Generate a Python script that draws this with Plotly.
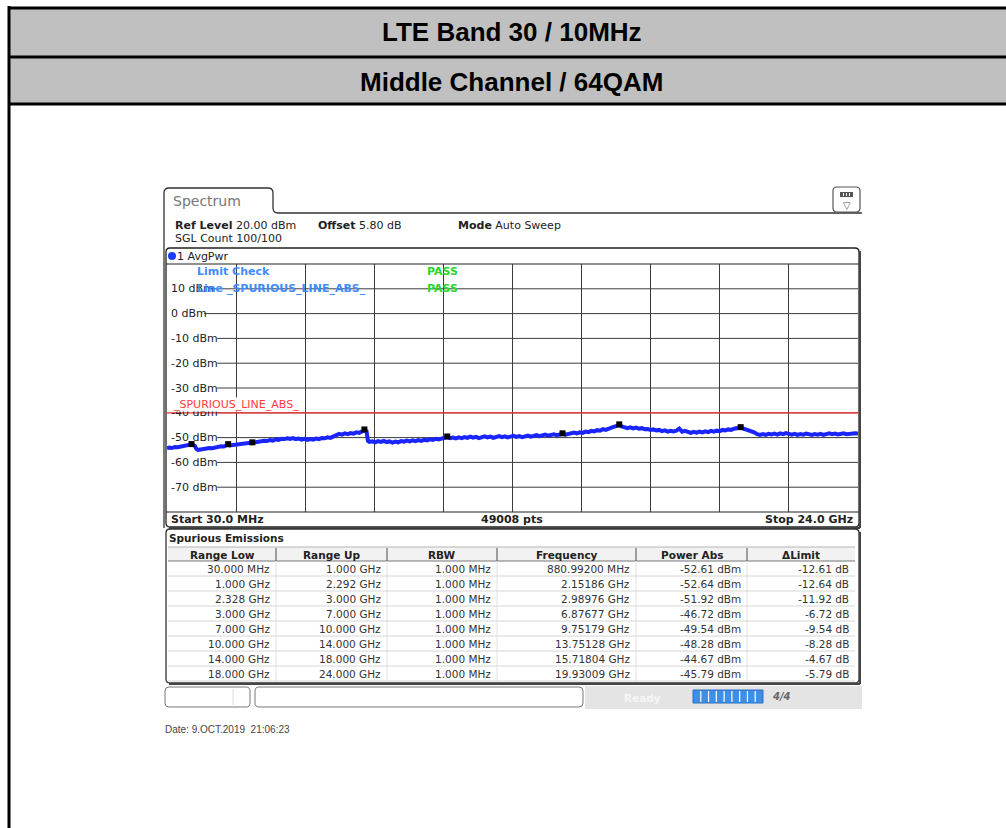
import plotly.graph_objects as go

W, H = 1006, 828

# ---------------- data ----------------
title_rows = ["LTE Band 30 / 10MHz", "Middle Channel / 64QAM"]

start_ghz, stop_ghz = 0.03, 24.0
ref_level_dbm, bottom_dbm = 20.0, -80.0
limit_dbm = -40.0
sweep_points = 49008

ytick_vals = [10, 0, -10, -20, -30, -40, -50, -60, -70]
ytick_text = [f"{v} dBm" for v in ytick_vals]

# AvgPwr trace (GHz, dBm)
freq_ghz = [
    0.03, 0.1, 0.2, 0.3, 0.4, 0.5, 0.6, 0.7, 0.8, 0.88, 0.95, 1.0, 1.05,
    1.1, 1.2, 1.3, 1.4, 1.5, 1.6, 1.7, 1.8, 1.9, 2.0, 2.1, 2.15, 2.2, 2.3,
    2.4, 2.5, 2.6, 2.7, 2.8, 2.9, 2.99,
    3.1, 3.2, 3.3, 3.4, 3.5, 3.6, 3.7, 3.8, 3.9, 4.0, 4.1, 4.2, 4.3, 4.4,
    4.5, 4.6, 4.7, 4.8, 4.9, 5.0, 5.1, 5.2, 5.3, 5.4, 5.5, 5.6, 5.7, 5.8,
    5.9, 6.0, 6.1, 6.2, 6.3, 6.4, 6.5, 6.6, 6.7, 6.8, 6.88, 6.95,
    7.0, 7.05, 7.15, 7.25, 7.35, 7.45, 7.55, 7.65, 7.75, 7.85, 7.95, 8.05,
    8.15, 8.25, 8.35, 8.45, 8.55, 8.65, 8.75, 8.85, 8.95, 9.05, 9.15, 9.25,
    9.35, 9.45, 9.55, 9.65, 9.75, 9.85, 9.95,
    10.05, 10.15, 10.25, 10.35, 10.45, 10.55, 10.65, 10.75, 10.85, 10.95,
    11.05, 11.15, 11.25, 11.35, 11.45, 11.55, 11.65, 11.75, 11.85, 11.95,
    12.05, 12.15, 12.25, 12.35, 12.45, 12.55, 12.65, 12.75, 12.85, 12.95,
    13.05, 13.15, 13.25, 13.35, 13.45, 13.55, 13.65, 13.75, 13.85, 13.95,
    14.05, 14.15, 14.25, 14.35, 14.45, 14.55, 14.65, 14.75, 14.85, 14.95,
    15.05, 15.15, 15.25, 15.35, 15.45, 15.55, 15.65, 15.72, 15.8, 15.9,
    16.0, 16.1, 16.2, 16.3, 16.4, 16.5, 16.6, 16.7, 16.8, 16.9, 17.0, 17.1,
    17.2, 17.3, 17.4, 17.5, 17.6, 17.7, 17.8, 17.85, 17.9, 18.0,
    18.1, 18.2, 18.3, 18.4, 18.5, 18.6, 18.7, 18.8, 18.9, 19.0, 19.1, 19.2,
    19.3, 19.4, 19.5, 19.6, 19.7, 19.8, 19.93, 20.0, 20.1, 20.2, 20.3, 20.4,
    20.5, 20.6, 20.7, 20.8, 20.9, 21.0, 21.1, 21.2, 21.3, 21.4, 21.5, 21.6,
    21.7, 21.8, 21.9, 22.0, 22.1, 22.2, 22.3, 22.4, 22.5, 22.6, 22.7, 22.8,
    22.9, 23.0, 23.1, 23.2, 23.3, 23.4, 23.5, 23.6, 23.7, 23.8, 23.9, 24.0,
]
level_dbm = [
    -54.3, -54.0, -54.2, -53.8, -53.9, -53.6, -53.5, -53.2, -53.0, -52.7, -53.1, -53.4, -54.6,
    -55.0, -54.8, -54.5, -54.6, -54.2, -54.3, -53.9, -53.8, -53.5, -53.6, -53.1, -52.8, -53.2, -53.0,
    -52.9, -52.6, -52.7, -52.4, -52.3, -52.1, -52.0,
    -51.9, -51.6, -51.7, -51.3, -51.4, -51.0, -51.2, -50.7, -50.9, -50.5, -50.6, -50.3, -50.5, -50.2,
    -50.6, -50.4, -50.8, -50.5, -50.9, -50.6, -50.8, -50.4, -50.6, -50.2, -50.3, -49.9, -50.1, -49.5,
    -48.9, -48.5, -48.8, -48.3, -48.6, -48.2, -48.4, -47.9, -48.1, -47.6, -47.0, -47.4,
    -51.3, -51.7, -51.5, -51.9, -51.4, -51.7, -51.3, -51.8, -51.5, -52.0, -51.6, -51.9,
    -51.4, -51.6, -51.2, -51.5, -51.1, -51.4, -51.0, -51.3, -50.9, -51.1, -50.7, -50.9,
    -50.5, -50.7, -50.3, -50.1, -49.8, -50.2, -50.0,
    -50.3, -49.9, -50.2, -49.8, -50.1, -49.6, -50.0, -49.7, -50.2, -49.8,
    -49.5, -49.9, -49.6, -50.1, -49.7, -49.4, -49.8, -49.5, -49.9, -49.6,
    -49.3, -49.7, -49.4, -49.8, -49.5, -49.2, -49.6, -49.3, -49.0, -49.4,
    -49.1, -48.8, -49.2, -48.9, -48.7, -49.0, -48.6, -48.5, -48.8, -48.6,
    -48.4, -48.0, -48.3, -47.9, -48.1, -47.6, -47.8, -47.3, -47.5, -47.0,
    -47.2, -46.6, -46.9, -46.3, -46.0, -45.6, -45.2, -45.0, -45.5, -45.9,
    -46.2, -45.9, -46.3, -46.0, -46.4, -46.2, -46.6, -46.5, -46.9, -46.7, -47.1, -46.9,
    -47.4, -47.1, -47.6, -47.3, -47.5, -47.2, -46.4, -47.0, -47.6, -47.3,
    -47.8, -48.1, -47.7, -48.0, -47.6, -47.9, -47.5, -47.8, -47.3, -47.6, -47.2, -47.4,
    -46.9, -47.1, -46.7, -46.9, -46.4, -46.1, -45.9, -46.3, -46.6, -46.9, -47.3, -47.9,
    -48.6, -48.9, -48.6, -48.9, -48.5, -48.7, -48.4, -48.8, -48.3, -48.6, -48.2, -48.5,
    -48.8, -48.5, -48.9, -48.6, -48.8, -48.4, -48.7, -48.9, -48.6, -48.8, -48.5, -48.9,
    -48.6, -48.3, -48.6, -48.4, -48.7, -48.5, -48.3, -48.6, -48.4, -48.5, -48.3, -48.4,
]

# Spurious emission result table
range_low = ["30.000 MHz", "1.000 GHz", "2.328 GHz", "3.000 GHz",
             "7.000 GHz", "10.000 GHz", "14.000 GHz", "18.000 GHz"]
range_up = ["1.000 GHz", "2.292 GHz", "3.000 GHz", "7.000 GHz",
            "10.000 GHz", "14.000 GHz", "18.000 GHz", "24.000 GHz"]
rbw = ["1.000 MHz"] * 8
peak_freq_ghz = [0.880992, 2.15186, 2.98976, 6.87677,
                 9.75179, 13.75128, 15.71804, 19.93009]
peak_dbm = [-52.61, -52.64, -51.92, -46.72, -49.54, -48.28, -44.67, -45.79]
table_header = ["Range Low", "Range Up", "RBW", "Frequency", "Power Abs", "ΔLimit"]

# ---------------- helpers ----------------
INSTR = "DejaVu Sans, Verdana, sans-serif"
ARIAL = "Liberation Sans, Arial, sans-serif"
GRID = "#3c3c3c"


def px(x):
    return x / W


def py(y):
    return 1 - y / H


def P(x, y):
    return f"{px(x):.5f},{py(y):.5f}"


def rrect(x0, y0, x1, y1, r):
    return (f"M {P(x0 + r, y0)} L {P(x1 - r, y0)} Q {P(x1, y0)} {P(x1, y0 + r)} "
            f"L {P(x1, y1 - r)} Q {P(x1, y1)} {P(x1 - r, y1)} L {P(x0 + r, y1)} "
            f"Q {P(x0, y1)} {P(x0, y1 - r)} L {P(x0, y0 + r)} Q {P(x0, y0)} {P(x0 + r, y0)} Z")


shapes = []
annotations = []


def line(x0, y0, x1, y1, color="#000", width=1, layer="above"):
    shapes.append(dict(type="line", xref="paper", yref="paper",
                       x0=px(x0), y0=py(y0), x1=px(x1), y1=py(y1),
                       line=dict(color=color, width=width), layer=layer))


def rect(x0, y0, x1, y1, fill, color=None, width=0, layer="below"):
    shapes.append(dict(type="rect", xref="paper", yref="paper",
                       x0=px(x0), y0=py(y0), x1=px(x1), y1=py(y1),
                       fillcolor=fill, line=dict(color=color or fill, width=width),
                       layer=layer))


def path(d, color="#000", width=1, fill=None, layer="above"):
    shapes.append(dict(type="path", xref="paper", yref="paper", path=d,
                       line=dict(color=color, width=width),
                       fillcolor=fill or "rgba(0,0,0,0)", layer=layer))


def note(text, x, y, size=11, color="#222", anchor="left", family=INSTR, bg=None,
         yref="paper", pad=1):
    annotations.append(dict(text=text, x=px(x), y=(y if yref == "y" else py(y)),
                            xref="paper", yref=yref, xanchor=anchor, yanchor="middle",
                            showarrow=False, borderpad=pad,
                            font=dict(family=family, size=size, color=color),
                            bgcolor=bg))


# ---------------- page header ----------------
rect(9, 8, 1008, 57, "#c0c0c0")
rect(9, 57, 1008, 104, "#c0c0c0")
for yy in (8, 57, 104):
    line(8, yy, 1006, yy, "#000", 3)
line(9, 6, 9, 830, "#000", 3)
note(f"<b>{title_rows[0]}</b>", 512, 32, size=26, color="#000", anchor="center", family=ARIAL)
note(f"<b>{title_rows[1]}</b>", 512, 82, size=26, color="#000", anchor="center", family=ARIAL)

# ---------------- instrument panel ----------------
tab = (f"M {P(164, 528)} L {P(164, 193)} Q {P(164, 188)} {P(169, 188)} "
       f"L {P(268, 188)} Q {P(273, 188)} {P(273, 193)} L {P(273, 208)} "
       f"Q {P(273, 213)} {P(278, 213)} L {P(862, 213)}")
path(tab, "#333", 1.3)
note("Spectrum", 171, 201, size=14, color="#777")

# menu icon, top right
path(rrect(833, 187, 860, 212, 4), "#555", 1.2, fill="#fff")
rect(840, 192, 853, 197, "#555", layer="above")
for xx in (843.5, 846.5, 849.5):
    line(xx, 193, xx, 196, "#fff", 1)
note("▽", 846.5, 205, size=10, color="#555", anchor="center")

note("<b>Ref Level</b> 20.00 dBm", 173, 225)
note("<b>Offset</b> 5.80 dB", 316, 225)
note("<b>Mode</b> Auto Sweep", 456, 225)
note("SGL Count 100/100", 173, 239)

# diagram frame
path(rrect(166, 248, 859, 527, 4), "#222", 1.3)
line(860, 251, 860, 528, "#444", 2)
line(169, 528, 860, 528, "#444", 2)
line(166, 264, 859, 264, "#222", 1.2)
line(166, 512, 859, 512, "#222", 1.2)
shapes.append(dict(type="circle", xref="paper", yref="paper",
                   x0=px(168), x1=px(176), y0=py(252), y1=py(260),
                   fillcolor="#1a3cff", line=dict(color="#1a3cff", width=0), layer="above"))
note("1 AvgPwr", 175, 256)

note(f"<b>Start {start_ghz * 1000:.1f} MHz</b>", 169, 519)
note(f"<b>{sweep_points} pts</b>", 512, 519, anchor="center")
note(f"<b>Stop {stop_ghz:.1f} GHz</b>", 855, 519, anchor="right")

# level grid: each horizontal line starts right after its level label
for v, t in zip(ytick_vals, ytick_text):
    shapes.append(dict(type="line", xref="paper", yref="y",
                       x0=px(171 + 6.6 * len(t)), x1=px(858), y0=v, y1=v,
                       line=dict(color=GRID, width=1), layer="below"))
    note(t, 170, v, size=11, color="#222", yref="y", pad=0)

# limit line label and limit-check status
note("_SPURIOUS_LINE_ABS_", 172, 404.5, size=11, color="#ff3b3b", bg="#fff", pad=0)
note("<b>Limit Check</b>", 195, 271, size=11, color="#3f8cff")
note("<b>Line _SPURIOUS_LINE_ABS_</b>", 195, 288, size=11, color="#3f8cff")
note("<b>PASS</b>", 425, 271, size=11, color="#2bd62b")
note("<b>PASS</b>", 425, 288, size=11, color="#2bd62b")

# ---------------- result table ----------------
col_edges = [168, 276, 387, 497, 636, 747, 855]
header_top, header_bot = 547, 561
row_h = 15
n_rows = len(range_low)

freq_text = [f"{f * 1000:.5f} MHz" if f < 1 else f"{f:.5f} GHz" for f in peak_freq_ghz]
power_text = [f"{p:.2f} dBm" for p in peak_dbm]
delta_text = [f"{p - limit_dbm:.2f} dB" for p in peak_dbm]
columns = [range_low, range_up, rbw, freq_text, power_text, delta_text]

rect(col_edges[0], header_top, col_edges[-1], header_bot, "#f2f2f2")
line(col_edges[0], header_top, col_edges[-1], header_top, "#b5b5b5", 1)
line(col_edges[0], header_bot, col_edges[-1], header_bot, "#777", 1.2)
table_bottom = header_bot + row_h * n_rows
for xe in col_edges[1:-1]:
    line(xe, header_top + 1, xe, header_bot, "#666", 1.2)
    line(xe, header_bot, xe, table_bottom, "#e2e2e2", 1)
for i in range(1, n_rows + 1):
    yy = header_bot + row_h * i
    line(col_edges[0], yy, col_edges[-1], yy, "#d6d6d6", 1)

for c, h in enumerate(table_header):
    note(f"<b>{h}</b>", (col_edges[c] + col_edges[c + 1]) / 2, 554.5,
         size=10.5, color="#222", anchor="center")
    for r in range(n_rows):
        note(columns[c][r], col_edges[c + 1] - 5, header_bot + row_h * r + 8,
             size=10.5, color="#333", anchor="right", pad=0)

# table frame
path(rrect(166, 529, 859, 683, 4), "#333", 1.3)
line(860, 532, 860, 684, "#444", 2)
line(169, 684, 860, 684, "#444", 2)
note("<b>Spurious Emissions</b>", 167, 538, size=10.5)

# status bar
path(rrect(165, 687, 250, 707, 4), "#777", 1)
line(233, 689, 233, 705, "#ddd", 1)
path(rrect(255, 687, 583, 707, 4), "#777", 1)
rect(585, 686, 862, 709, "#e4e4e4")
note("<b>Ready</b>", 622, 698, size=10.5, color="#f6f6f6")
rect(693, 690, 763, 703, "#3d8fe8", "#2a6fc0", 1, layer="above")
for k in range(1, 9):
    line(693 + 70 * k / 9, 691, 693 + 70 * k / 9, 702, "#fff", 1.2)
note("<b><i>4/4</i></b>", 770, 696, size=10, color="#666")
note("Date: 9.OCT.2019&nbsp; 21:06:23", 163, 729, size=10, color="#444", family=ARIAL)

# ---------------- figure ----------------
fig = go.Figure()

fig.add_trace(go.Scatter(x=[start_ghz, stop_ghz], y=[limit_dbm, limit_dbm], mode="lines",
                         line=dict(color="#ff3030", width=1.2), hoverinfo="skip"))
fig.add_trace(go.Scatter(x=freq_ghz, y=level_dbm, mode="lines",
                         line=dict(color="#1a24ff", width=4), name="1 AvgPwr"))
fig.add_trace(go.Scatter(x=peak_freq_ghz, y=peak_dbm, mode="markers",
                         marker=dict(symbol="square", size=6, color="#000"), name="Peaks"))

fig.update_layout(
    width=W, height=H, autosize=False,
    margin=dict(l=0, r=0, t=0, b=0),
    paper_bgcolor="#fff", plot_bgcolor="#fff",
    showlegend=False,
    shapes=shapes, annotations=annotations,
    xaxis=dict(domain=[px(167), px(858)], range=[start_ghz, stop_ghz],
               tickmode="linear", tick0=start_ghz, dtick=(stop_ghz - start_ghz) / 10,
               showgrid=True, gridcolor=GRID, gridwidth=1,
               showticklabels=False, ticks="", zeroline=False, showline=False,
               fixedrange=True),
    yaxis=dict(domain=[py(512), py(264)], range=[bottom_dbm, ref_level_dbm],
               tickmode="linear", tick0=0, dtick=10, showgrid=False,
               showticklabels=False, ticks="", zeroline=False, showline=False,
               fixedrange=True),
)

fig.write_html("out.html")
